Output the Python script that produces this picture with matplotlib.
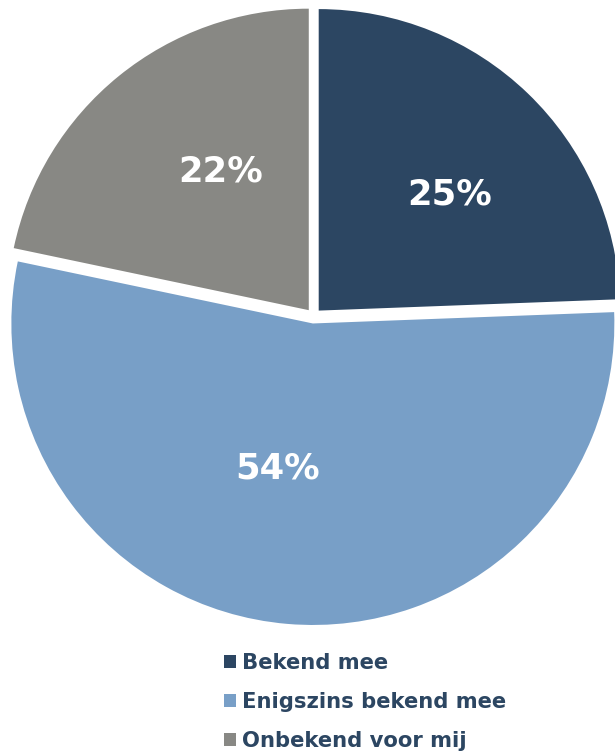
import matplotlib
matplotlib.use("Agg")
import matplotlib.pyplot as plt
from matplotlib.patches import Patch
import numpy as np

categories = ["Bekend mee", "Enigszins bekend mee", "Onbekend voor mij"]
values = [24.4, 53.9, 21.7]
labels = ["25%", "54%", "22%"]
colors = ["#2C4662", "#789FC7", "#888884"]
text_color = "#2C4662"

W, H = 615, 754
fig = plt.figure(figsize=(W / 100, H / 100), dpi=100)
ax = fig.add_axes([0, 0, 1, 1])

cx, cy, r = 313.5, H - 316.0, 301.5
gap = 7.5
wedges, _ = ax.pie(values, colors=colors, startangle=90, counterclock=False,
                   explode=[gap] * 3, radius=r, center=(cx, cy),
                   wedgeprops=dict(linewidth=0))
ax.set_xlim(0, W)
ax.set_ylim(0, H)
ax.set_aspect("auto")
ax.axis("off")

# label placement: (distance fraction, angle offset from bisector in degrees)
label_pos = [(0.585, -4), (0.49, -9), (0.55, -7)]
for w, lab, (d, off) in zip(wedges, labels, label_pos):
    mid = np.deg2rad((w.theta1 + w.theta2) / 2 + off)
    x0, y0 = w.center
    ax.text(x0 + d * r * np.cos(mid), y0 + d * r * np.sin(mid) - 2, lab,
            ha="center", va="center", color="white", fontsize=25.5,
            fontweight="bold", family="DejaVu Sans")

handles = [Patch(facecolor=c, edgecolor="none") for c in colors]
leg = fig.legend(handles, categories, loc="upper left",
                 bbox_to_anchor=(224 / W, 1 - 653 / H), frameon=False,
                 borderpad=0, borderaxespad=0, handlelength=0.55,
                 handleheight=0.55, handletextpad=0.3, labelspacing=0.9,
                 prop=dict(family="DejaVu Sans", weight="bold", size=15.2))
for t in leg.get_texts():
    t.set_color(text_color)

fig.savefig("out.png", dpi=100)
